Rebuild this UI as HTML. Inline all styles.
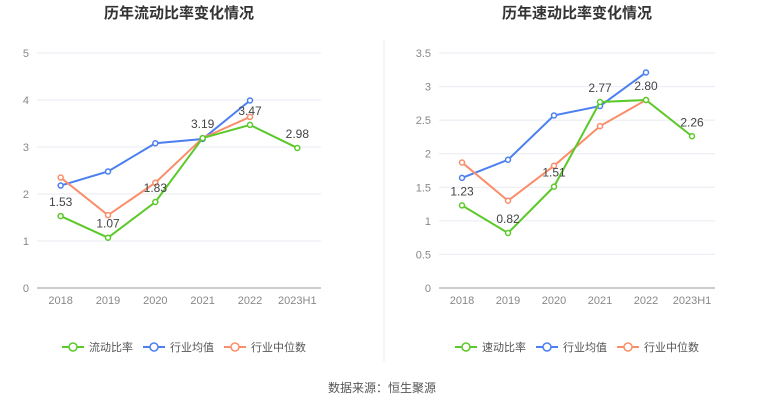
<!DOCTYPE html>
<html><head><meta charset="utf-8"><style>
body{margin:0;background:#fff;font-family:"Liberation Sans","Noto Sans CJK SC",sans-serif;}
svg text{font-family:"Liberation Sans","Noto Sans CJK SC",sans-serif;}
</style></head><body>
<svg id="s" width="765" height="406">
<line x1="384" y1="40" x2="384" y2="362" stroke="#eee"/>
<text x="382" y="392" font-size="12" fill="#555" text-anchor="middle">数据来源：恒生聚源</text>
</svg>
<script>
const categories=["2018","2019","2020","2021","2022","2023H1"];
const leftMain=[1.53,1.07,1.83,3.19,3.47,2.98];
const leftAvg=[2.18,2.48,3.08,3.17,3.99,null];
const leftMed=[2.35,1.55,2.24,3.19,3.64,null];
const leftTicks=[0,1,2,3,4,5];
const rightMain=[1.23,0.82,1.51,2.77,2.80,2.26];
const rightAvg=[1.64,1.91,2.57,2.71,3.21,null];
const rightMed=[1.87,1.30,1.82,2.41,2.80,null];
const rightTicks=[0,0.5,1,1.5,2,2.5,3,3.5];
const NS="http://www.w3.org/2000/svg",svg=document.getElementById('s');
function el(t,a,p){const e=document.createElementNS(NS,t);for(const k in a)e.setAttribute(k,a[k]);(p||svg).appendChild(e);return e;}
function chart(o){
 const g=el('g',{});
 
 
 const y=v=>288-(v/o.max)*235;
 const step=(o.x1-o.x0)/categories.length;
 const x=i=>o.x0+step*(i+0.5);
 const t=el('text',{x:(o.x0+o.x1)/2,y:18,'font-size':15,'font-weight':'bold',fill:'#333','text-anchor':'middle'},g);t.textContent=o.title;
 
 
 o.ticks.forEach(v=>{
  el('line',{x1:o.x0,x2:o.x1,y1:y(v),y2:y(v),stroke:v==0?'#999':'#e8ebf3'},g);
  const l=el('text',{x:o.x0-8,y:y(v)+4,'font-size':11,fill:'#888','text-anchor':'end'},g);l.textContent=v;
  
  
 });
 categories.forEach((c,i)=>{
  const l=el('text',{x:x(i),y:304,'font-size':11,fill:'#888','text-anchor':'middle'},g);l.textContent=c;
  
  
 });
 const series=[[o.avg,'#4c7ff0','avg'],[o.med,'#fa8e6a','median'],[o.main,'#5cc92a','main']];
 series.forEach(([d,c,n])=>{
  let pts=d.map((v,i)=>v==null?null:[x(i),y(v)]).filter(p=>p);
  const pl=el('polyline',{points:pts.map(p=>p.join(',')).join(' '),fill:'none',stroke:c,'stroke-width':2},g);
  
  
  pts.forEach(p=>{
   const ci=el('circle',{cx:p[0],cy:p[1],r:2.5,fill:'#fff',stroke:c,'stroke-width':1.5},g);
   
   
  });
 });
 o.main.forEach((v,i)=>{
  const l=el('text',{x:x(i),y:y(v)-10,'font-size':12,fill:'#444','text-anchor':'middle'},g);l.textContent=v.toFixed(2);
  
  
 });
 const leg=[[o.l1,'#5cc92a'],['行业均值','#4c7ff0'],['行业中位数','#fa8e6a']];
 leg.forEach(([n,c],k)=>{
  const lx=o.legX+k*81;
  const lg=el('g',{},g);
  
  
  el('line',{x1:lx,x2:lx+22,y1:347,y2:347,stroke:c,'stroke-width':2},lg);
  el('circle',{cx:lx+11,cy:347,r:4,fill:'#fff',stroke:c,'stroke-width':1.5},lg);
  const tt=el('text',{x:lx+27,y:351,'font-size':11,fill:'#555'},lg);tt.textContent=n;
 });
}
chart({name:'current-ratio-chart',title:'历年流动比率变化情况',x0:37,x1:321,max:5,ticks:leftTicks,main:leftMain,avg:leftAvg,med:leftMed,l1:'流动比率',legX:62});
chart({name:'quick-ratio-chart',title:'历年速动比率变化情况',x0:439,x1:715,max:3.5,ticks:rightTicks,main:rightMain,avg:rightAvg,med:rightMed,l1:'速动比率',legX:455});
</script>
</body></html>
